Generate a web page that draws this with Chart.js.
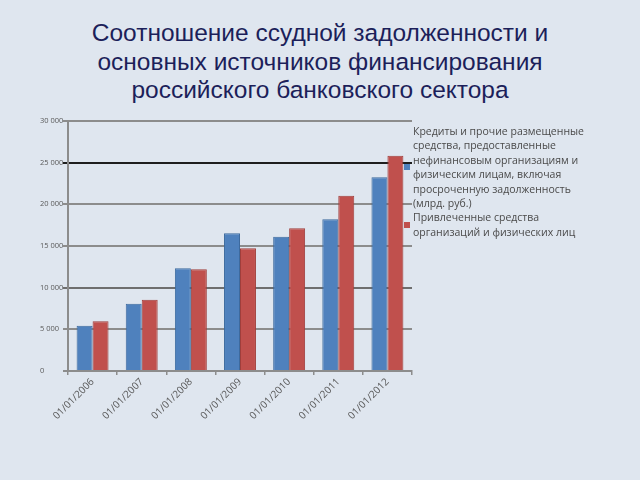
<!DOCTYPE html>
<html>
<head>
<meta charset="utf-8">
<script src="https://cdn.jsdelivr.net/npm/chart.js@4/dist/chart.umd.min.js"></script>
<style>
  html, body { margin: 0; padding: 0; }
  body { width: 640px; height: 480px; background: #dfe6ef; position: relative; overflow: hidden; font-family: "Open Sans", sans-serif; }
  #title { position: absolute; left: 0; top: 19px; width: 640px; text-align: center; color: #1c1f5a; font-family: "Liberation Sans", Arial, sans-serif; font-size: 24.5px; line-height: 28.5px; }
  #wrap { position: absolute; left: 0; top: 0; width: 640px; height: 480px; }
  #legend { position: absolute; left: 404px; top: 124px; color: #4a4a4a; font-size: 10.5px; line-height: 14.4px; }
  .item { display: flex; align-items: center; }
  .mark { width: 6px; height: 6px; margin-right: 3px; flex: none; }
</style>
</head>
<body>
<div id="title">Соотношение ссудной задолженности и<br>основных источников финансирования<br>российского банковского сектора</div>
<div id="wrap"><canvas id="chart" width="640" height="480"></canvas></div>
<div id="legend"></div>
<script>
// периоды
const dates = ["01/01/2006", "01/01/2007", "01/01/2008", "01/01/2009", "01/01/2010", "01/01/2011", "01/01/2012"];
// кредиты и размещенные средства, млрд руб.
const loans = [5440, 8080, 12330, 16530, 16120, 18210, 23250];
// привлеченные средства
const funds = [5960, 8560, 12200, 14730, 17130, 21040, 25840];
const loansLabel = ["Кредиты и прочие размещенные", "средства, предоставленные", "нефинансовым организациям и", "физическим лицам, включая", "просроченную задолженность", "(млрд. руб.)"];
const fundsLabel = ["Привлеченные средства", "организаций и физических лиц"];
const blue = "#4f81bd", red = "#c0504d";

function gridColor(ctx) {
    const v = ctx.tick ? ctx.tick.value : 0;
    if (v === 25000) return "#1e1e1e";
    if (v === 10000) return "#6e6e6e";
    return "#8c8c8c";
}

const chart = new Chart(document.getElementById("chart"), {
    type: "bar",
    data: {
        labels: dates,
        datasets: [
            { label: loansLabel.join(" "), data: loans, backgroundColor: blue, borderColor: "#3d6a9e", borderWidth: 1, categoryPercentage: 0.65, barPercentage: 1.0 },
            { label: fundsLabel.join(" "), data: funds, backgroundColor: red, borderColor: "#a03e3b", borderWidth: 1, categoryPercentage: 0.65, barPercentage: 1.0 }
        ]
    },
    options: {
        responsive: false,
        animation: false,
        layout: { padding: { left: 40, top: 121, right: 228, bottom: 0 } },
        plugins: { legend: { display: false }, tooltip: { enabled: false } },
        scales: {
            x: {
                grid: { drawOnChartArea: false, drawTicks: true, tickLength: 4, color: "#8c8c8c", lineWidth: 1.5, offset: true },
                border: { color: "#8c8c8c", width: 2 },
                ticks: { color: "#595959", font: { family: "Open Sans", size: 10 }, minRotation: 45, maxRotation: 45, padding: 1 },
                afterFit: (s) => { s.height = 109; }
            },
            y: {
                min: 0, max: 30000,
                grid: { color: gridColor, lineWidth: 2, tickLength: 5 },
                border: { color: "#8c8c8c", width: 2 },
                ticks: {
                    stepSize: 5000, color: "#595959", crossAlign: "far",
                    font: { family: "Open Sans", size: 7.5 },
                    callback: (v) => String(v).replace(/\B(?=(\d{3})+(?!\d))/g, " ")
                },
                afterFit: (s) => { s.width = 28; }
            }
        }
    }
});

// легенда справа
const legend = document.getElementById("legend");
[[blue, loansLabel], [red, fundsLabel]].forEach(([c, lines]) => {
    const row = document.createElement("div");
    row.className = "item";
    row.innerHTML = '<span class="mark" style="background:' + c + '"></span><span>' + lines.join("<br>") + '</span>';
    legend.appendChild(row);
});
</script>
</body>
</html>
